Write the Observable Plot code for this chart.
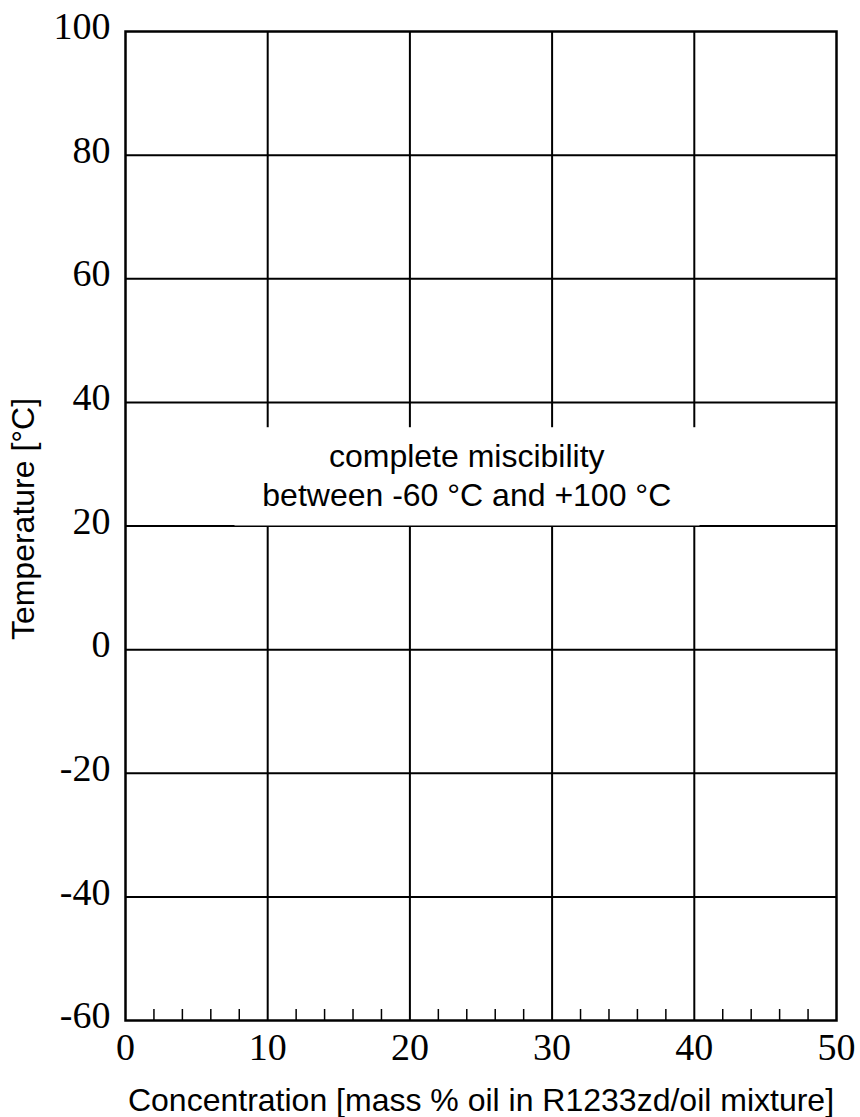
<!DOCTYPE html>
<html>
<head>
<meta charset="utf-8">
<script src="https://cdn.jsdelivr.net/npm/d3@7"></script>
<script src="https://cdn.jsdelivr.net/npm/@observablehq/plot@0.6"></script>
<style>
  html, body { margin: 0; padding: 0; background: #fff; }
  #chart svg { display: block; }
</style>
</head>
<body>
<div id="chart"></div>
<script>
// ---- data ----
const xDomain = [0, 50];
const yDomain = [-60, 100];
const xMajorTicks = [0, 10, 20, 30, 40, 50];
const xGridLines = [10, 20, 30, 40];
const xMinorTicks = [2, 4, 6, 8, 12, 14, 16, 18, 22, 24, 26, 28, 32, 34, 36, 38, 42, 44, 46, 48];
const yTicks = [-60, -40, -20, 0, 20, 40, 60, 80, 100];
const yGridLines = [-40, -20, 0, 20, 40, 60, 80];
const annotationBox = [{x1: 7.7, x2: 40.4, y1: 20, y2: 35.9}];
const annotationText = [{x: 24, y: 28.36, text: "complete miscibility\nbetween -60 °C and +100 °C"}];
const xLabel = "Concentration [mass % oil in R1233zd/oil mixture]";
const yLabel = "Temperature [°C]";

// ---- layout ----
const W = 860, H = 1117;
const mTop = 31, mBottom = 97, mLeft = 125, mRight = 24;
const plotH = H - mTop - mBottom;
const serif = "'Liberation Serif', 'Times New Roman', serif";
const sans = "'Liberation Sans', Arial, sans-serif";

const chart = Plot.plot({
  width: W,
  height: H,
  marginTop: mTop,
  marginBottom: mBottom,
  marginLeft: mLeft,
  marginRight: mRight,
  style: {background: "#fff", color: "#000", fontFamily: sans},
  x: {domain: xDomain},
  y: {domain: yDomain},
  marks: [
    Plot.gridX(xGridLines, {stroke: "#000", strokeOpacity: 1, strokeWidth: 2}),
    Plot.gridY(yGridLines, {stroke: "#000", strokeOpacity: 1, strokeWidth: 2}),
    Plot.rect(annotationBox, {x1: "x1", x2: "x2", y1: "y1", y2: "y2", fill: "#fff"}),
    Plot.text(annotationText, {x: "x", y: "y", text: "text", fontSize: 32, fontFamily: sans, lineHeight: 1.19, textAnchor: "middle", lineAnchor: "middle", fill: "#000"}),
    Plot.tickX(xMinorTicks, {x: d => d, insetTop: plotH - 11, stroke: "#000", strokeWidth: 1.5}),
    Plot.frame({stroke: "#000", strokeWidth: 2.5}),
    Plot.axisX(xMajorTicks, {tickSize: 0, tickPadding: 13, fontSize: 38, fontFamily: serif, tickFormat: d => String(d), label: null, fill: "#000"}),
    Plot.axisY(yTicks, {tickSize: 0, tickPadding: 15, fontSize: 38, fontFamily: serif, tickFormat: d => String(d), label: null, dy: -4.5, fill: "#000"}),
    Plot.text([xLabel], {frameAnchor: "bottom", dy: 79.8, fontSize: 32, fontFamily: sans, textAnchor: "middle", lineAnchor: "middle", fill: "#000"}),
    Plot.text([yLabel], {frameAnchor: "left", dx: -101.7, dy: -7, rotate: -90, fontSize: 32, fontFamily: sans, textAnchor: "middle", lineAnchor: "middle", fill: "#000"})
  ]
});
document.getElementById("chart").appendChild(chart);
</script>
</body>
</html>
